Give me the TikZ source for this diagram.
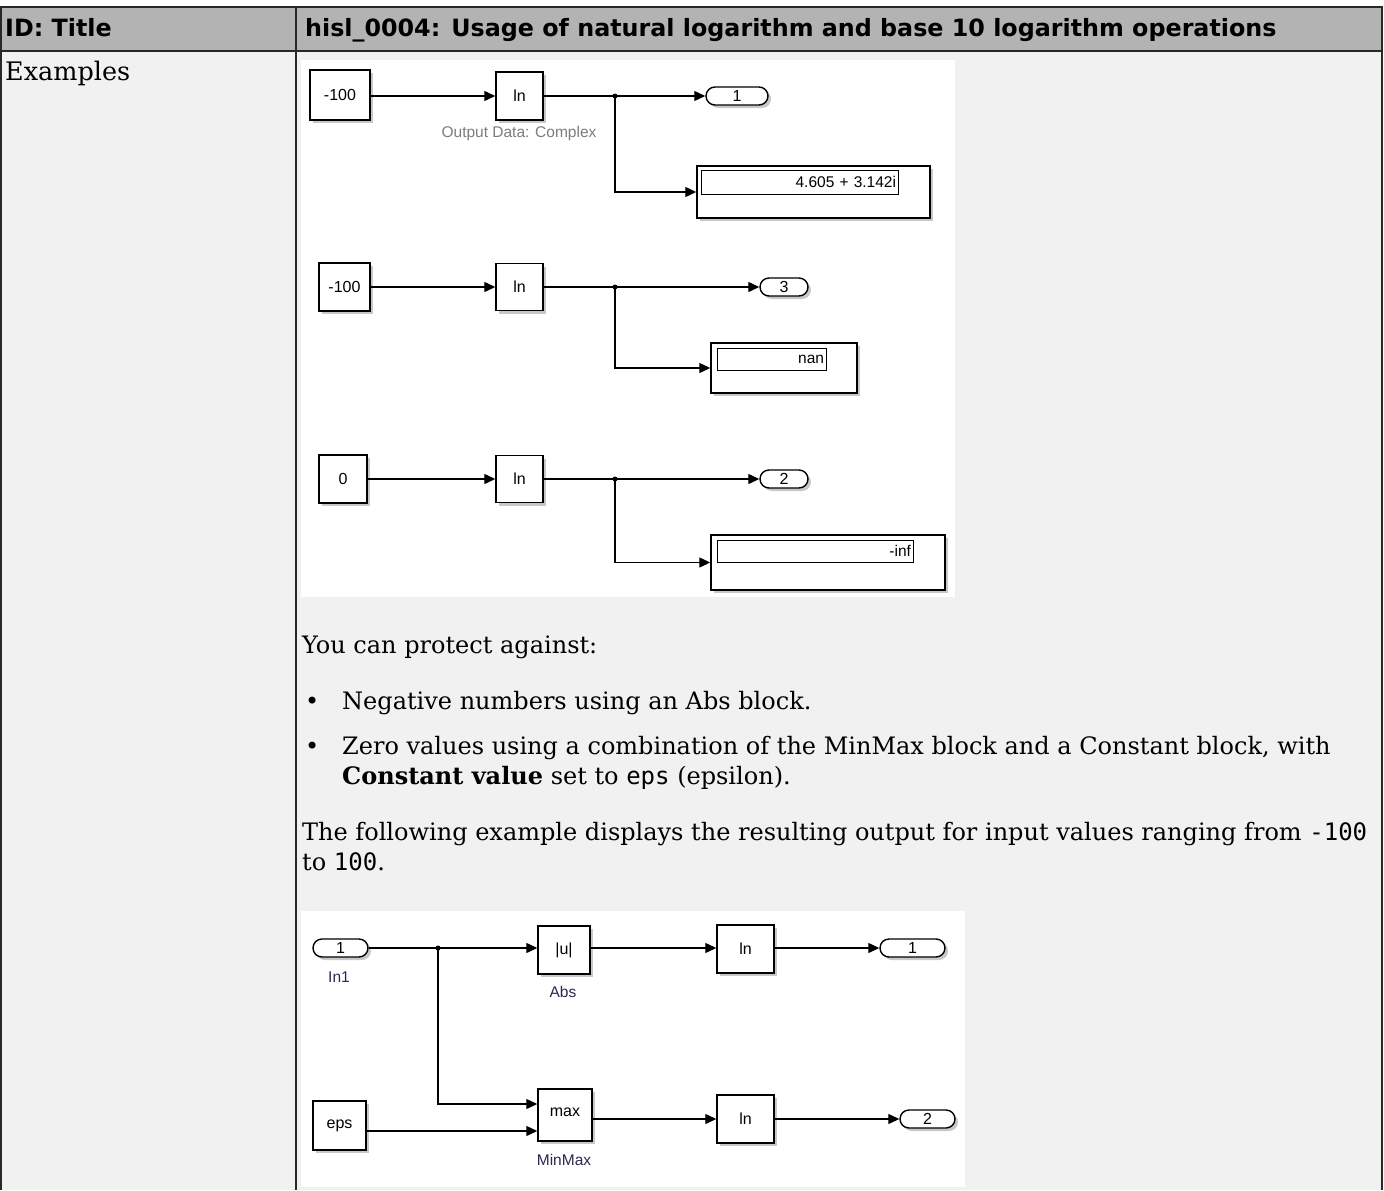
\documentclass[tikz,border=0pt]{standalone}
\usepackage{fontspec}
\setmainfont{DejaVu Serif}
\setsansfont{DejaVu Sans}
\setmonofont{DejaVu Sans Mono}
\newfontfamily\diagfont{Liberation Sans}
\usetikzlibrary{arrows.meta,shadows}
\definecolor{hdr}{RGB}{179,179,179}
\definecolor{bodybg}{RGB}{241,241,241}
\definecolor{rulec}{RGB}{40,40,40}
\definecolor{lblgray}{RGB}{125,125,125}
\definecolor{lbldark}{RGB}{45,40,80}
\begin{document}
\begin{tikzpicture}[x=1pt,y=-1pt,
 blk/.style={draw=black, fill=white, line width=1.4pt, inner sep=0pt,
   font=\diagfont\fontsize{16}{18}\selectfont,
   drop shadow={shadow xshift=3pt, shadow yshift=-3pt, opacity=0.3, fill=black!70}},
 port/.style={blk, rounded corners=9pt},
 disp/.style={blk},
 dispin/.style={draw=black, fill=white, line width=1pt, inner sep=2pt, align=right,
   font=\diagfont\fontsize{15.5}{17}\selectfont},
 wire/.style={line width=1.2pt, -{Triangle[length=11pt,width=10pt]}},
 plainwire/.style={line width=1.2pt},
 jdot/.style={circle, fill=black, inner sep=0pt, minimum size=5pt},
 lbl/.style={inner sep=0pt, font=\diagfont\fontsize{15.5}{17}\selectfont},
 txt/.style={anchor=base west, inner sep=0pt, font=\fontsize{24}{28}\selectfont},
 hd/.style={anchor=base west, inner sep=0pt, font=\sffamily\bfseries\fontsize{23.8}{28}\selectfont},
]
% ---------- table ----------
\fill[white] (0,0) rectangle (1384,1190);
\fill[bodybg] (1,51) rectangle (1382,1190);
\fill[hdr] (1,7) rectangle (1382,51);
\draw[rulec, line width=1.5pt] (1,1190) -- (1,7) -- (1382,7) -- (1382,1190);
\draw[rulec, line width=1.5pt] (1,51) -- (1382,51);
\draw[rulec, line width=1.5pt] (296,7) -- (296,1190);

\node[hd] (h1) at (5,37) {ID: Title};
\node[hd] (h2) at (305,37) {hisl\_0004: Usage of natural logarithm and base 10 logarithm operations};
\node[txt, font=\fontsize{25.5}{28}\selectfont] (ex) at (5,81) {Examples};

% ---------- top diagram ----------
\fill[white] (301,60) rectangle (955,597);

% row 1
\node[blk, minimum width=60pt, minimum height=50pt] (c1) at (340,95) {-100};
\node[blk, minimum width=47pt, minimum height=48pt] (ln1) at (519.5,96) {ln};
\node[jdot] (j1) at (615,96) {};
\node[port, minimum width=62pt, minimum height=18pt] (o1) at (737,96) {1};
\node[disp, minimum width=233pt, minimum height=52pt] (d1) at (813.5,192) {};
\node[dispin, text width=193pt, minimum height=24pt] (d1i) at (799.5,182) {4.605 + 3.142i};
\node[lbl, text=lblgray] (l1) at (519,133) {Output Data: Complex};
\draw[wire] (c1.east |- ln1) -- (ln1.west);
\draw[plainwire] (ln1.east) -- (j1.center);
\draw[wire] (j1.center) -- (o1.west);
\draw[wire] (j1.center) |- (d1.west);

% row 2
\node[blk, minimum width=51pt, minimum height=48pt] (c2) at (344.5,287) {-100};
\node[blk, minimum width=47pt, minimum height=47pt] (ln2) at (519.5,287) {ln};
\node[jdot] (j2) at (615,287) {};
\node[port, minimum width=48pt, minimum height=18pt] (o3) at (784,287) {3};
\node[disp, minimum width=146pt, minimum height=50pt] (d2) at (784,368) {};
\node[dispin, text width=105pt, minimum height=22pt] (d2i) at (771.5,359) {nan};
\draw[wire] (c2.east) -- (ln2.west);
\draw[plainwire] (ln2.east) -- (j2.center);
\draw[wire] (j2.center) -- (o3.west);
\draw[wire] (j2.center) |- (d2.west);

% row 3
\node[blk, minimum width=48pt, minimum height=48pt] (c3) at (343,479) {0};
\node[blk, minimum width=47pt, minimum height=47pt] (ln3) at (519.5,479) {ln};
\node[jdot] (j3) at (615,479) {};
\node[port, minimum width=48pt, minimum height=18pt] (o2) at (784,479) {2};
\node[disp, minimum width=234pt, minimum height=55pt] (d3) at (828,562.5) {};
\node[dispin, text width=192pt, minimum height=22pt] (d3i) at (815,551) {-inf};
\draw[wire] (c3.east) -- (ln3.west);
\draw[plainwire] (ln3.east) -- (j3.center);
\draw[wire] (j3.center) -- (o2.west);
\draw[wire] (j3.center) |- (d3.west);

% ---------- text ----------
\node[txt] (t1) at (302,653) {You can protect against:};
\node[txt] (b1) at (305,709) {•};
\node[txt] (t2) at (342,709) {Negative numbers using an Abs block.};
\node[txt] (b2) at (305,754) {•};
\node[txt] (t3) at (342,754) {Zero values using a combination of the MinMax block and a Constant block, with};
\node[txt] (t4) at (342,784) {\textbf{Constant value} set to \texttt{eps} (epsilon).};
\node[txt] (t5) at (302,840) {The following example displays the resulting output for input values ranging from \texttt{-100}};
\node[txt] (t6) at (302,870) {to \texttt{100}.};

% ---------- bottom diagram ----------
\fill[white] (301,911) rectangle (965,1187);
\node[port, minimum width=55pt, minimum height=18pt] (in1) at (340.5,948) {1};
\node[lbl, text=lbldark] (in1l) at (339,977) {In1};
\node[jdot] (j4) at (438,948) {};
\node[blk, minimum width=52pt, minimum height=48pt] (abs) at (564,950) {|u|};
\node[lbl, text=lbldark] (absl) at (563,992) {Abs};
\node[blk, minimum width=57pt, minimum height=48pt] (lnA) at (745.5,949) {ln};
\node[port, minimum width=65pt, minimum height=18pt] (oA) at (912.5,948) {1};
\node[blk, minimum width=53pt, minimum height=49pt] (eps) at (339.5,1125.5) {eps};
\node[blk, minimum width=54pt, minimum height=52pt, text depth=6pt] (mm) at (565,1115) {max};
\node[lbl, text=lbldark] (mml) at (564,1160) {MinMax};
\node[blk, minimum width=57pt, minimum height=48pt] (lnB) at (745.5,1119) {ln};
\node[port, minimum width=55pt, minimum height=18pt] (oB) at (927.5,1119) {2};
\coordinate (yA) at (0,1104);
\coordinate (yB) at (0,1131);
\coordinate (yC) at (0,1119);
\draw[plainwire] (in1.east) -- (j4.center);
\draw[wire] (j4.center) -- (j4 -| abs.west);
\draw[wire] (abs.east |- j4) -- (lnA.west |- j4);
\draw[wire] (lnA.east |- j4) -- (oA.west);
\draw[wire] (j4.center) |- (mm.west |- yA);
\draw[wire] (eps.east |- yB) -- (mm.west |- yB);
\draw[wire] (mm.east |- yC) -- (lnB.west);
\draw[wire] (lnB.east) -- (oB.west);
\end{tikzpicture}
\end{document}
